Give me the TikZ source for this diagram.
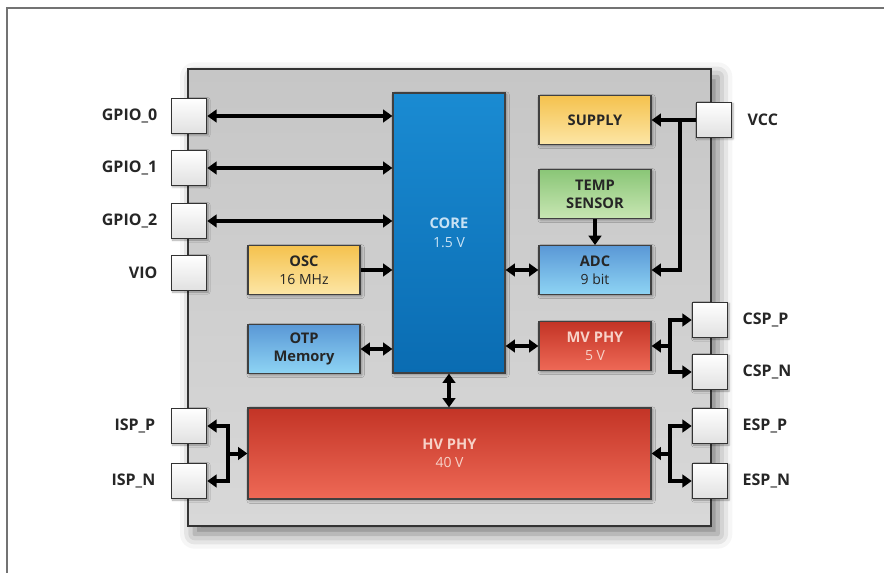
\documentclass[tikz,border=0pt]{standalone}
\usepackage{fontspec}
\setmainfont{Open Sans}
\usetikzlibrary{arrows.meta,shadows.blur}

\definecolor{chiptop}{HTML}{C6C6C6}
\definecolor{chipbot}{HTML}{D8D8D8}
\definecolor{coretop}{HTML}{1A8BD2}
\definecolor{corebot}{HTML}{0A6CB2}
\definecolor{yeltop}{HTML}{F5C24E}
\definecolor{yelbot}{HTML}{FCE6A6}
\definecolor{grntop}{HTML}{8AC677}
\definecolor{grnbot}{HTML}{C8E6B3}
\definecolor{blutop}{HTML}{5A98D6}
\definecolor{blubot}{HTML}{8ED4F4}
\definecolor{redtop}{HTML}{C33426}
\definecolor{redbot}{HTML}{EE6956}
\definecolor{coretext}{HTML}{C8E2F4}
\definecolor{redtext}{HTML}{F7D2C8}

\newcommand{\sublabel}{\fontseries{m}\fontsize{10.5}{12.5}\selectfont}

\begin{document}
\begin{tikzpicture}[
x=0.75pt,y=-0.75pt,
chip/.style={
rectangle,draw=black!80,line width=1.1pt,
top color=chiptop,bottom color=chipbot,
minimum width=392.25pt,
minimum height=342.75pt,
blur shadow={shadow blur radius=11pt,shadow xshift=5pt,shadow yshift=-6pt,shadow opacity=55}
},
block/.style={
rectangle,draw=black!75,line width=0.9pt,
align=center,inner sep=0pt,
minimum width=84pt,
minimum height=36.5pt,
font=\bfseries\fontsize{11}{13.5}\selectfont,
blur shadow={shadow blur radius=2pt,shadow xshift=1.2pt,shadow yshift=-1.2pt,shadow opacity=40}
},
yelbox/.style={block,top color=yeltop,bottom color=yelbot,text=black!85},
grnbox/.style={block,top color=grntop,bottom color=grnbot,text=black!85},
blubox/.style={block,top color=blutop,bottom color=blubot,text=black!85},
redbox/.style={block,top color=redtop,bottom color=redbot,text=redtext},
corebox/.style={block,top color=coretop,bottom color=corebot,text=coretext},
pad/.style={
rectangle,draw=black!80,line width=0.9pt,
top color=white,bottom color=black!12,
minimum size=26.5pt,inner sep=0pt,
blur shadow={shadow blur radius=1.5pt,shadow xshift=1pt,shadow yshift=-1pt,shadow opacity=35}
},
pinlabel/.style={font=\bfseries\fontsize{12}{14}\selectfont,text=black!85},
link/.style={line width=3pt,-{Triangle[length=7pt,width=9.5pt]}},
both/.style={line width=3pt,{Triangle[length=7pt,width=9.5pt]}-{Triangle[length=7pt,width=9.5pt]}}
]

\useasboundingbox (0,0) rectangle (884,573);

% =======================
% FRAME AND CHIP
% =======================

\draw[black!55,line width=1.6pt] (7,573) -- (7,8) -- (884,8);

\node[chip] (chip) at (449.5,297.5) {};

% =======================
% BLOCKS
% =======================

\node[corebox,minimum height=210pt] (core) at (449,233)
{CORE\\[1pt]{\sublabel 1.5 V}};

\node[yelbox] (supply) at (595,120) {SUPPLY};
\node[grnbox] (temp) at (595,194) {TEMP\\SENSOR};
\node[blubox] (adc) at (595,270) {ADC\\{\sublabel 9 bit}};

\node[yelbox] (osc) at (304,270) {OSC\\{\sublabel 16 MHz}};
\node[blubox] (otp) at (304,349) {OTP\\Memory};

\node[redbox] (mvphy) at (595,346) {MV PHY\\{\sublabel 5 V}};
\node[redbox,minimum width=302.25pt,minimum height=68.25pt] (hvphy) at (449.5,453.5)
{HV PHY\\{\sublabel 40 V}};

% =======================
% PADS (LEFT)
% =======================

\node[pad] (gpio0) at (189,116) {};
\node[pad] (gpio1) at (189,168) {};
\node[pad] (gpio2) at (189,221) {};
\node[pad] (vio) at (189,273) {};
\node[pad] (ispp) at (189,426) {};
\node[pad] (ispn) at (189,481) {};

\node[pinlabel,anchor=east] (lgpio0) at (162,116) {GPIO\_0};
\node[pinlabel,anchor=east] (lgpio1) at (162,168) {GPIO\_1};
\node[pinlabel,anchor=east] (lgpio2) at (162,221) {GPIO\_2};
\node[pinlabel,anchor=east] (lvio) at (162,273) {VIO};
\node[pinlabel,anchor=east] (lispp) at (160,426) {ISP\_P};
\node[pinlabel,anchor=east] (lispn) at (160,481) {ISP\_N};

% =======================
% PADS (RIGHT)
% =======================

\node[pad] (vcc) at (714,120) {};
\node[pad] (cspp) at (710,320) {};
\node[pad] (cspn) at (710,372) {};
\node[pad] (espp) at (710,426) {};
\node[pad] (espn) at (710,481) {};

\node[pinlabel,anchor=west] (lvcc) at (743,120) {VCC};
\node[pinlabel,anchor=west] (lcspp) at (738,320) {CSP\_P};
\node[pinlabel,anchor=west] (lcspn) at (738,372) {CSP\_N};
\node[pinlabel,anchor=west] (lespp) at (738,426) {ESP\_P};
\node[pinlabel,anchor=west] (lespn) at (738,481) {ESP\_N};

% =======================
% ARROWS
% =======================

\draw[both] (gpio0.east) -- (gpio0.east -| core.west);
\draw[both] (gpio1.east) -- (gpio1.east -| core.west);
\draw[both] (gpio2.east) -- (gpio2.east -| core.west);

\draw[link] (osc.east) -- (osc.east -| core.west);
\draw[both] (otp.east) -- (otp.east -| core.west);

\draw[both] (adc.west -| core.east) -- (adc.west);
\draw[both] (mvphy.west -| core.east) -- (mvphy.west);
\draw[both] (core.south) -- (core.south |- hvphy.north);

\draw[link] (temp.south) -- (adc.north);

% supply branch
\coordinate (vccsplit) at (680,120);
\draw[link] (vcc.west) -- (supply.east);
\draw[link] (vccsplit) |- (adc.east);

% differential pairs
\coordinate (cspsplit) at (670,346);
\draw[link] (cspsplit) -- (mvphy.east);
\draw[link] (cspsplit) |- (cspp.west);
\draw[link] (cspsplit) |- (cspn.west);

\coordinate (espsplit) at (670,453.5);
\draw[link] (espsplit) -- (hvphy.east);
\draw[link] (espsplit) |- (espp.west);
\draw[link] (espsplit) |- (espn.west);

\coordinate (ispsplit) at (228,453.5);
\draw[link] (ispsplit) -- (hvphy.west);
\draw[link] (ispsplit) |- (ispp.east);
\draw[link] (ispsplit) |- (ispn.east);

\end{tikzpicture}
\end{document}
